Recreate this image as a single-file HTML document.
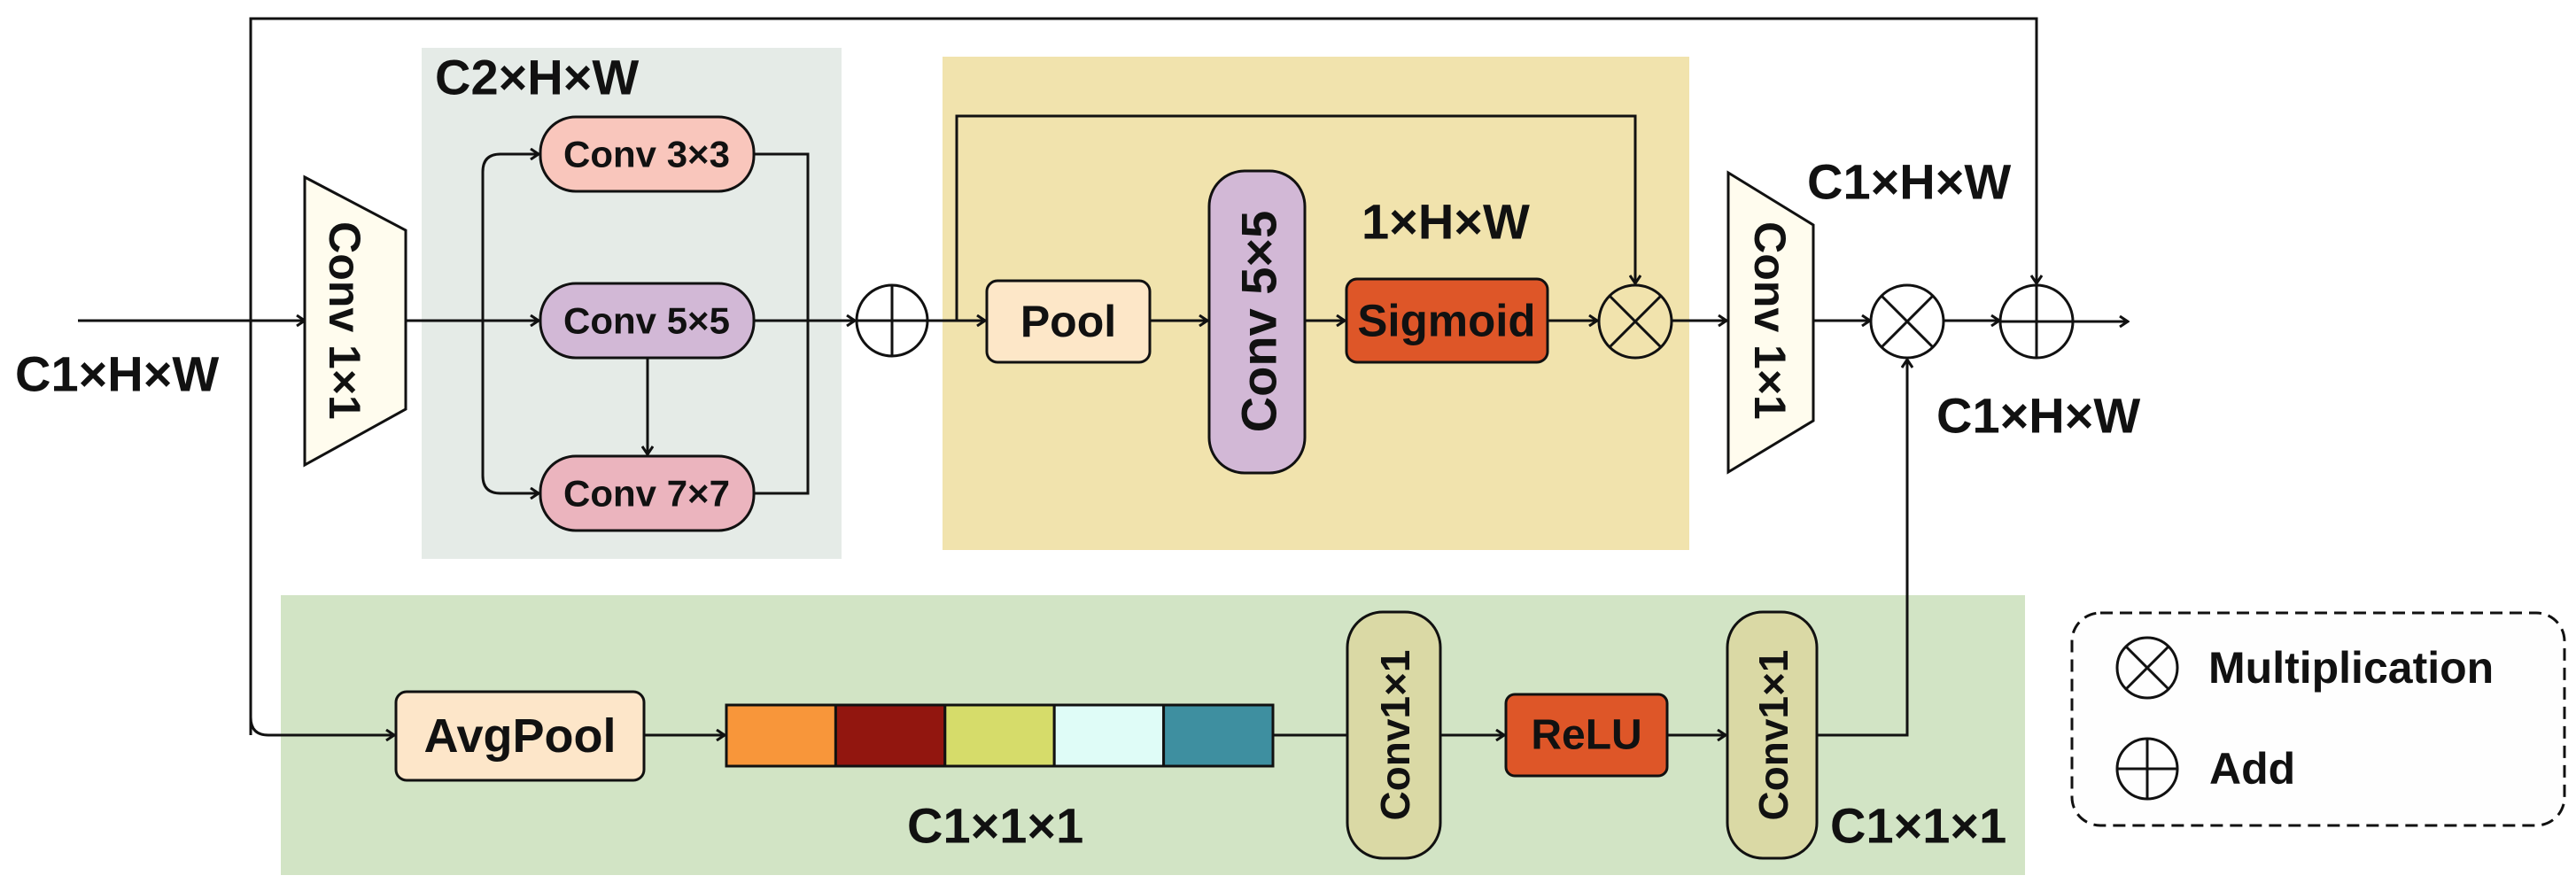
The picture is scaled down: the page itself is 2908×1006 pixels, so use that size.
<!DOCTYPE html>
<html><head><meta charset="utf-8"><style>
html,body{margin:0;padding:0;background:#fff;}
svg{display:block;}
text{font-family:"Liberation Sans",sans-serif;font-weight:bold;fill:#111;}
</style></head><body>
<svg width="2908" height="1006" viewBox="0 0 2908 1006" xmlns="http://www.w3.org/2000/svg">
<defs>
<marker id="a" markerWidth="14" markerHeight="14" refX="12" refY="7" orient="auto" markerUnits="userSpaceOnUse">
<polyline points="3,1 12,7 3,13" fill="none" stroke="#111" stroke-width="3"/>
</marker>
</defs>
<rect x="476" y="54" width="474" height="577" fill="#E5EBE7"/>
<rect x="1064" y="64" width="843" height="557" fill="#F1E3AD"/>
<rect x="317" y="672" width="1969" height="316" fill="#D2E4C5"/>

<g fill="none" stroke="#111" stroke-width="3">
<polyline points="283,830 283,21 2299,21 2299,320" marker-end="url(#a)"/>
<line x1="88" y1="362" x2="344" y2="362" marker-end="url(#a)"/>
<line x1="458" y1="362" x2="608" y2="362" marker-end="url(#a)"/>
<path d="M565,174 Q545,174 545,194 L545,537 Q545,557 565,557" />
<line x1="564" y1="174" x2="608" y2="174" marker-end="url(#a)"/>
<line x1="564" y1="557" x2="608" y2="557" marker-end="url(#a)"/>
<line x1="731" y1="404" x2="731" y2="513" marker-end="url(#a)"/>
<polyline points="852,174 912,174 912,557 852,557"/>
<line x1="852" y1="362" x2="965" y2="362" marker-end="url(#a)"/>
<line x1="1047" y1="362" x2="1112" y2="362" marker-end="url(#a)"/>
<polyline points="1080,362 1080,131 1846,131 1846,320" marker-end="url(#a)"/>
<line x1="1298" y1="362" x2="1363" y2="362" marker-end="url(#a)"/>
<line x1="1473" y1="362" x2="1518" y2="362" marker-end="url(#a)"/>
<line x1="1747" y1="362" x2="1803" y2="362" marker-end="url(#a)"/>
<line x1="1887" y1="362" x2="1949" y2="362" marker-end="url(#a)"/>
<line x1="2047" y1="362" x2="2111" y2="362" marker-end="url(#a)"/>
<line x1="2194" y1="362" x2="2257" y2="362" marker-end="url(#a)"/>
<line x1="2340" y1="363" x2="2402" y2="363" marker-end="url(#a)"/>
<path d="M283,810 Q283,830 303,830 L445,830" marker-end="url(#a)"/>
<line x1="727" y1="830" x2="818" y2="830" marker-end="url(#a)"/>
<line x1="1437" y1="830" x2="1521" y2="830"/>
<line x1="1626" y1="830" x2="1698" y2="830" marker-end="url(#a)"/>
<line x1="1882" y1="830" x2="1948" y2="830" marker-end="url(#a)"/>
<polyline points="2051,830 2153,830 2153,406" marker-end="url(#a)"/>
</g>

<polygon points="344,200 458,260 458,462 344,525" fill="#FFFCEE" stroke="#111" stroke-width="3"/>
<polygon points="1951,195 2047,254 2047,475 1951,533" fill="#FFFCEE" stroke="#111" stroke-width="3"/>
<text transform="translate(389,362) rotate(90)" font-size="50" text-anchor="middle" dominant-baseline="central">Conv 1×1</text>
<text transform="translate(1998,362) rotate(90)" font-size="50" text-anchor="middle" dominant-baseline="central">Conv 1×1</text>

<g stroke="#111" stroke-width="3">
<rect x="610" y="132" width="241" height="84" rx="40" fill="#F9C6BC"/>
<rect x="610" y="320" width="241" height="84" rx="40" fill="#D2B8D6"/>
<rect x="610" y="515" width="241" height="84" rx="40" fill="#EBB4BE"/>
<rect x="1114" y="317" width="184" height="92" rx="12" fill="#FDE7C8"/>
<rect x="1365" y="193" width="108" height="341" rx="40" fill="#D2B8D6"/>
<rect x="1520" y="315" width="227" height="94" rx="12" fill="#DE5628"/>
<rect x="447" y="781" width="280" height="100" rx="12" fill="#FDE6C9"/>
<rect x="1521" y="691" width="105" height="278" rx="40" fill="#DAD9A5"/>
<rect x="1700" y="784" width="182" height="92" rx="10" fill="#DE5628"/>
<rect x="1950" y="691" width="101" height="278" rx="40" fill="#DAD9A5"/>
<rect x="820" y="796" width="123.4" height="69" fill="#F8963A"/>
<rect x="943.4" y="796" width="123.4" height="69" fill="#92160F"/>
<rect x="1066.8" y="796" width="123.4" height="69" fill="#D6DC6A"/>
<rect x="1190.2" y="796" width="123.4" height="69" fill="#DFFCF7"/>
<rect x="1313.6" y="796" width="123.4" height="69" fill="#3E8FA0"/>
</g>

<g fill="none" stroke="#111" stroke-width="3">
<circle cx="1007" cy="362" r="40" fill="#fff"/>
<line x1="967" y1="362" x2="1047" y2="362"/><line x1="1007" y1="322" x2="1007" y2="402"/>
<circle cx="1846" cy="363" r="41"/>
<line x1="1817" y1="334" x2="1875" y2="392"/><line x1="1875" y1="334" x2="1817" y2="392"/>
<circle cx="2153" cy="363" r="41"/>
<line x1="2124" y1="334" x2="2182" y2="392"/><line x1="2182" y1="334" x2="2124" y2="392"/>
<circle cx="2299" cy="363" r="41"/>
<line x1="2258" y1="363" x2="2340" y2="363"/><line x1="2299" y1="322" x2="2299" y2="404"/>
<rect x="2339" y="692" width="556" height="240" rx="32" fill="#fefefe" stroke-dasharray="14,8"/>
<circle cx="2424" cy="754" r="34"/>
<line x1="2400" y1="730" x2="2448" y2="778"/><line x1="2448" y1="730" x2="2400" y2="778"/>
<circle cx="2424" cy="868" r="34"/>
<line x1="2390" y1="868" x2="2458" y2="868"/><line x1="2424" y1="834" x2="2424" y2="902"/>
</g>

<g font-size="42" text-anchor="middle" dominant-baseline="central">
<text x="730" y="174">Conv 3×3</text>
<text x="730" y="362">Conv 5×5</text>
<text x="730" y="557">Conv 7×7</text>
<text x="1206" y="363" font-size="50">Pool</text>
<text x="1633" y="362" font-size="51">Sigmoid</text>
<text x="587" y="831" font-size="54">AvgPool</text>
<text x="1791" y="830" font-size="48">ReLU</text>
<text transform="translate(1421,363) rotate(-90)" font-size="56">Conv 5×5</text>
<text transform="translate(1575,830) rotate(-90)" font-size="46">Conv1×1</text>
<text transform="translate(2002,830) rotate(-90)" font-size="46">Conv1×1</text>
</g>
<g font-size="56" dominant-baseline="central">
<text x="17" y="422">C1×H×W</text>
<text x="491" y="87">C2×H×W</text>
<text x="1537" y="250">1×H×W</text>
<text x="2040" y="205">C1×H×W</text>
<text x="2186" y="469">C1×H×W</text>
<text x="1024" y="932">C1×1×1</text>
<text x="2066" y="932">C1×1×1</text>
<text x="2493" y="754" font-size="50">Multiplication</text>
<text x="2494" y="868" font-size="50">Add</text>
</g>
</svg>
</body></html>
